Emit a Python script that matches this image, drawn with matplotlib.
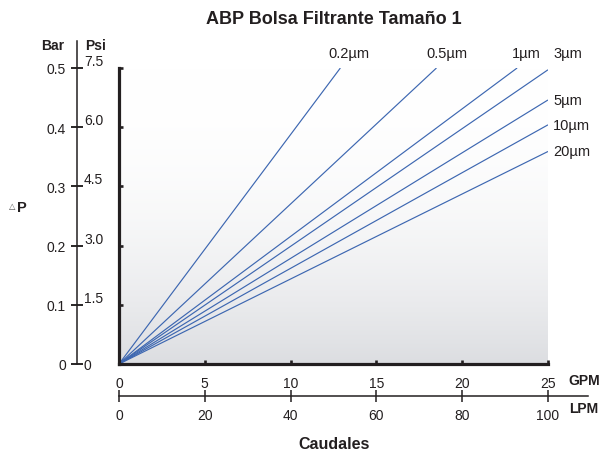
import numpy as np
import matplotlib
matplotlib.use("Agg")
import matplotlib.pyplot as plt
from matplotlib.transforms import blended_transform_factory

plt.rcParams['font.family'] = ['Liberation Sans', 'DejaVu Sans']

# Pressure-drop curves: straight lines from the origin to each end point
grades = ["0.2µm", "0.5µm", "1µm", "3µm", "5µm", "10µm", "20µm"]
flow_end_gpm = [12.9, 18.5, 23.2, 25.0, 25.0, 25.0, 25.0]
dp_end_bar = [0.50, 0.50, 0.50, 0.497, 0.446, 0.404, 0.359]

bar_ticks = [0, 0.1, 0.2, 0.3, 0.4, 0.5]
bar_labels = ["0", "0.1", "0.2", "0.3", "0.4", "0.5"]
psi_labels = ["0", "1.5", "3.0", "4.5", "6.0", "7.5"]
gpm_ticks = [0, 5, 10, 15, 20, 25]
lpm_ticks = [0, 20, 40, 60, 80, 100]

W, H = 600, 452
fig = plt.figure(figsize=(W / 100, H / 100), dpi=100)
ax = fig.add_axes([119 / W, 1 - 365 / H, (548 - 119) / W, (365 - 69) / H])
ax.set_xlim(0, 25)
ax.set_ylim(0, 0.5)

# soft grey gradient background
t = np.linspace(0, 1, 256)[:, None]
shade = np.clip(1 - t, 0, 1) ** 2.2
top = np.array([1.0, 1.0, 1.0])
bottom = np.array([0.862, 0.868, 0.882])
grad = top + (bottom - top) * shade[..., None]
grad = np.repeat(grad, 2, axis=1)
ax.imshow(grad, extent=[0, 25, 0, 0.5], origin='lower', aspect='auto',
          interpolation='bilinear', zorder=0)

line_color = '#3d67b1'
label_offsets = [(-12, 8), (-10, 8), (-5, 8), (5, 10), (5, 0), (5, 0), (5, 0)]
for name, xe, ye, off in zip(grades, flow_end_gpm, dp_end_bar, label_offsets):
    ax.plot([0, xe], [0, ye], color=line_color, lw=0.85, zorder=2,
            solid_capstyle='butt')
    ax.annotate(name, (xe, ye), xytext=off, textcoords='offset pixels',
                ha='left', va='bottom' if off[1] > 0 else 'center',
                fontsize=10.5, color='#231f20', annotation_clip=False)

# main frame: thick left and bottom spines with inward ticks
for s in ['top', 'right']:
    ax.spines[s].set_visible(False)
for s in ['left', 'bottom']:
    ax.spines[s].set_linewidth(2.3)
    ax.spines[s].set_color('#231f20')
    ax.spines[s].set_zorder(3)
ax.set_yticks(bar_ticks)
ax.set_yticklabels([])
ax.set_xticks(gpm_ticks)
ax.set_xticklabels([str(v) for v in gpm_ticks], fontsize=10, color='#231f20')
ax.tick_params(axis='both', direction='in', length=2.6, width=1.9,
               color='#231f20')
ax.tick_params(axis='x', pad=9)
ax.tick_params(axis='y', left=True)

# LPM scale below the GPM scale
lpm_loc = -(397 - 365) / (365 - 69)
sec_x = ax.secondary_xaxis(lpm_loc, functions=(lambda g: g * 4, lambda l: l / 4))
sec_x.set_xticks(lpm_ticks)
sec_x.set_xticklabels([str(v) for v in lpm_ticks], fontsize=10, color='#231f20')
sec_x.spines['bottom'].set_visible(False)
sec_x.tick_params(axis='x', direction='inout', length=9, width=1.1,
                  color='#231f20', pad=4)
xb = blended_transform_factory(ax.transData, ax.transAxes)
ax.plot([0, 27.35], [lpm_loc, lpm_loc], transform=xb, color='#231f20',
        lw=1.1, clip_on=False)

# Bar / Psi scale on the left
bp_loc = -(119 - 77) / (548 - 119)
sec_bar = ax.secondary_yaxis(bp_loc)
sec_bar.set_yticks(bar_ticks)
sec_bar.set_yticklabels(bar_labels, fontsize=10, color='#231f20')
sec_bar.yaxis.set_ticks_position('left')
sec_bar.tick_params(axis='y', direction='inout', length=8, width=1.1,
                    color='#231f20', pad=4)
for s in sec_bar.spines.values():
    s.set_visible(False)

sec_psi = ax.secondary_yaxis(bp_loc)
sec_psi.set_yticks(bar_ticks)
sec_psi.set_yticklabels(psi_labels, fontsize=10, color='#231f20')
sec_psi.yaxis.set_ticks_position('right')
sec_psi.tick_params(axis='y', direction='inout', length=8, width=1.1,
                    color='#231f20', pad=1)
for s in sec_psi.spines.values():
    s.set_visible(False)
for lab, v in zip(sec_psi.get_yticklabels(), bar_ticks):
    if v > 0:
        lab.set_va('bottom')

yb = blended_transform_factory(ax.transAxes, ax.transData)
ax.plot([bp_loc, bp_loc], [0, 0.546], transform=yb, color='#231f20',
        lw=1.1, clip_on=False)

# text
def px(x, y):
    return x / W, 1 - y / H

fig.text(*px(333.5, 20), "ABP Bolsa Filtrante Tamaño 1", ha='center',
         va='center', fontsize=13, fontweight='bold', color='#231f20')
fig.text(*px(334, 445), "Caudales", ha='center', va='center',
         fontsize=11.5, fontweight='bold', color='#231f20')
fig.text(*px(584, 381), "GPM", ha='center', va='center', fontsize=10,
         fontweight='bold', color='#231f20')
fig.text(*px(584, 409), "LPM", ha='center', va='center', fontsize=10,
         fontweight='bold', color='#231f20')
fig.text(*px(53, 46), "Bar", ha='center', va='center', fontsize=10,
         fontweight='bold', color='#231f20')
fig.text(*px(96, 46), "Psi", ha='center', va='center', fontsize=10,
         fontweight='bold', color='#231f20')
fig.text(*px(12.5, 207), "△", ha='center', va='center', fontsize=6,
         color='#555555', family=['DejaVu Sans'])
fig.text(*px(21.5, 208.5), "P", ha='center', va='center', fontsize=10.5,
         fontweight='bold', color='#231f20')

fig.savefig("out.png", dpi=100)
